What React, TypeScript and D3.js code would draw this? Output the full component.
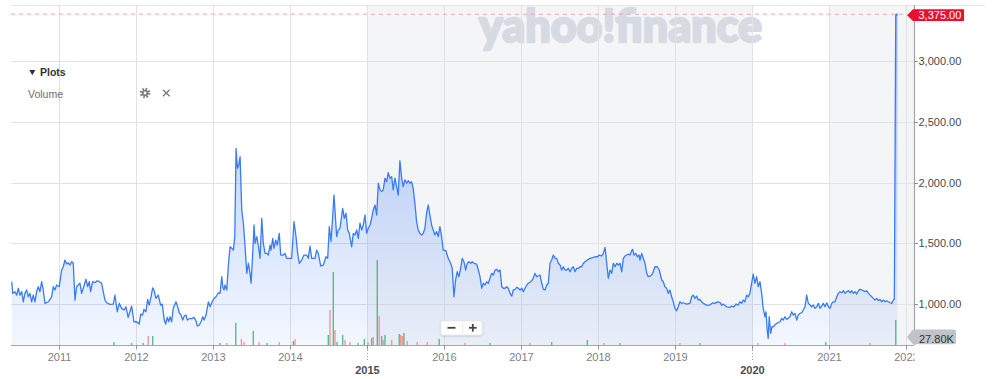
import React from 'react';
import * as d3 from 'd3';

// Decimal-year dates and closing prices
const priceDates = [
  2010.382, 2010.395, 2010.424, 2010.447, 2010.467, 2010.489, 2010.512, 2010.532, 2010.554, 2010.576,
  2010.597, 2010.619, 2010.641, 2010.662, 2010.684, 2010.706, 2010.727, 2010.749, 2010.771, 2010.792,
  2010.814, 2010.857, 2010.901, 2010.922, 2010.944, 2010.966, 2011.000, 2011.031, 2011.052, 2011.074,
  2011.096, 2011.117, 2011.139, 2011.161, 2011.182, 2011.204, 2011.226, 2011.247, 2011.269, 2011.291,
  2011.312, 2011.347, 2011.369, 2011.390, 2011.408, 2011.434, 2011.464, 2011.494, 2011.520, 2011.551,
  2011.594, 2011.616, 2011.659, 2011.702, 2011.724, 2011.754, 2011.780, 2011.811, 2011.841, 2011.867,
  2011.896, 2011.919, 2011.941, 2011.971, 2012.006, 2012.039, 2012.058, 2012.084, 2012.100, 2012.126,
  2012.149, 2012.169, 2012.191, 2012.214, 2012.230, 2012.256, 2012.286, 2012.317, 2012.338, 2012.364,
  2012.382, 2012.403, 2012.421, 2012.438, 2012.460, 2012.481, 2012.516, 2012.538, 2012.559, 2012.581,
  2012.603, 2012.624, 2012.646, 2012.663, 2012.689, 2012.720, 2012.750, 2012.776, 2012.793, 2012.819,
  2012.841, 2012.863, 2012.880, 2012.906, 2012.936, 2012.958, 2012.984, 2013.010, 2013.036, 2013.066,
  2013.088, 2013.110, 2013.123, 2013.140, 2013.153, 2013.175, 2013.196, 2013.218, 2013.240, 2013.261,
  2013.279, 2013.296, 2013.313, 2013.331, 2013.348, 2013.370, 2013.391, 2013.413, 2013.435, 2013.456,
  2013.478, 2013.491, 2013.508, 2013.530, 2013.543, 2013.565, 2013.588, 2013.608, 2013.630, 2013.650,
  2013.673, 2013.695, 2013.715, 2013.738, 2013.750, 2013.773, 2013.789, 2013.812, 2013.832, 2013.858,
  2013.876, 2013.910, 2013.932, 2013.954, 2014.019, 2014.049, 2014.075, 2014.097, 2014.118, 2014.149,
  2014.179, 2014.214, 2014.235, 2014.257, 2014.279, 2014.322, 2014.344, 2014.365, 2014.396, 2014.430,
  2014.465, 2014.487, 2014.508, 2014.530, 2014.552, 2014.569, 2014.604, 2014.625, 2014.647, 2014.682,
  2014.703, 2014.725, 2014.747, 2014.768, 2014.799, 2014.820, 2014.842, 2014.864, 2014.885, 2014.907,
  2014.929, 2014.950, 2014.972, 2014.994, 2015.015, 2015.037, 2015.059, 2015.080, 2015.102, 2015.124,
  2015.145, 2015.167, 2015.189, 2015.209, 2015.232, 2015.254, 2015.274, 2015.297, 2015.319, 2015.339,
  2015.361, 2015.384, 2015.404, 2015.426, 2015.449, 2015.469, 2015.491, 2015.514, 2015.534, 2015.556,
  2015.578, 2015.599, 2015.621, 2015.643, 2015.664, 2015.686, 2015.708, 2015.729, 2015.751, 2015.773,
  2015.794, 2015.816, 2015.838, 2015.859, 2015.881, 2015.903, 2015.924, 2015.946, 2015.968, 2015.989,
  2016.024, 2016.054, 2016.085, 2016.106, 2016.128, 2016.150, 2016.171, 2016.193, 2016.215, 2016.236,
  2016.258, 2016.280, 2016.301, 2016.323, 2016.345, 2016.366, 2016.388, 2016.423, 2016.444, 2016.466,
  2016.488, 2016.509, 2016.531, 2016.553, 2016.574, 2016.596, 2016.618, 2016.639, 2016.661, 2016.683,
  2016.704, 2016.726, 2016.748, 2016.769, 2016.791, 2016.813, 2016.833, 2016.856, 2016.878, 2016.898,
  2016.921, 2016.943, 2016.963, 2016.986, 2017.008, 2017.028, 2017.050, 2017.073, 2017.093, 2017.125,
  2017.151, 2017.180, 2017.202, 2017.223, 2017.245, 2017.267, 2017.288, 2017.310, 2017.332, 2017.353,
  2017.375, 2017.397, 2017.418, 2017.440, 2017.462, 2017.483, 2017.505, 2017.527, 2017.548, 2017.570,
  2017.592, 2017.613, 2017.635, 2017.657, 2017.678, 2017.700, 2017.722, 2017.743, 2017.765, 2017.787,
  2017.808, 2017.830, 2017.860, 2017.895, 2017.930, 2017.960, 2017.990, 2018.016, 2018.047, 2018.068,
  2018.090, 2018.112, 2018.133, 2018.155, 2018.177, 2018.198, 2018.220, 2018.242, 2018.263, 2018.285,
  2018.307, 2018.328, 2018.350, 2018.372, 2018.393, 2018.415, 2018.437, 2018.450, 2018.467, 2018.489,
  2018.510, 2018.532, 2018.545, 2018.567, 2018.587, 2018.610, 2018.632, 2018.652, 2018.684, 2018.710,
  2018.739, 2018.769, 2018.795, 2018.827, 2018.847, 2018.869, 2018.891, 2018.912, 2018.934, 2018.956,
  2018.977, 2018.999, 2019.021, 2019.042, 2019.064, 2019.086, 2019.107, 2019.151, 2019.194, 2019.216,
  2019.237, 2019.259, 2019.281, 2019.302, 2019.324, 2019.346, 2019.367, 2019.411, 2019.454, 2019.489,
  2019.519, 2019.549, 2019.584, 2019.606, 2019.627, 2019.671, 2019.714, 2019.736, 2019.766, 2019.792,
  2019.822, 2019.844, 2019.866, 2019.887, 2019.909, 2019.931, 2019.952, 2019.974, 2019.996, 2020.017,
  2020.039, 2020.061, 2020.082, 2020.104, 2020.126, 2020.146, 2020.169, 2020.182, 2020.198, 2020.211,
  2020.224, 2020.243, 2020.260, 2020.276, 2020.321, 2020.364, 2020.386, 2020.406, 2020.428, 2020.451,
  2020.471, 2020.493, 2020.516, 2020.536, 2020.558, 2020.581, 2020.601, 2020.623, 2020.646, 2020.666,
  2020.688, 2020.710, 2020.731, 2020.753, 2020.775, 2020.796, 2020.818, 2020.840, 2020.861, 2020.883,
  2020.905, 2020.926, 2020.948, 2020.970, 2020.991, 2021.013, 2021.035, 2021.056, 2021.078, 2021.100,
  2021.121, 2021.143, 2021.165, 2021.186, 2021.208, 2021.230, 2021.251, 2021.273, 2021.295, 2021.316,
  2021.338, 2021.360, 2021.381, 2021.403, 2021.425, 2021.446, 2021.468, 2021.490, 2021.511, 2021.533,
  2021.555, 2021.576, 2021.598, 2021.620, 2021.641, 2021.663, 2021.685, 2021.706, 2021.728, 2021.750,
  2021.771, 2021.793, 2021.815, 2021.836, 2021.849, 2021.867, 2021.890,
];

const priceValues = [
  1186, 1090, 1104, 1076, 1132, 1076, 1104, 1021, 1090, 1118,
  1062, 1090, 1021, 1076, 1021, 1104, 1145, 1104, 1186, 1118,
  1008, 1021, 1062, 1145, 1118, 1159, 1145, 1282, 1309, 1364,
  1331, 1342, 1323, 1350, 1337, 1035, 1145, 1159, 1173, 1090,
  1132, 1206, 1145, 1186, 1104, 1186, 1178, 1194, 1186, 1173,
  1035, 1013, 1000, 1002, 1076, 939, 1008, 967, 953, 980,
  893, 939, 986, 857, 857, 838, 920, 912, 959, 939,
  1041, 994, 1058, 1136, 1118, 1049, 1076, 994, 1002, 871,
  838, 893, 857, 898, 857, 967, 1021, 980, 931, 912,
  871, 904, 912, 871, 882, 882, 893, 863, 822, 830,
  857, 898, 871, 912, 1021, 980, 1021, 1049, 1062, 1095,
  1090, 1227, 1145, 1118, 1159, 1118, 1323, 1473, 1460, 1446,
  1556, 2282, 2118, 2145, 2213, 1775, 1666, 1473, 1255, 1337,
  1255, 1173, 1364, 1652, 1501, 1556, 1473, 1378, 1707, 1501,
  1419, 1419, 1405, 1487, 1446, 1542, 1460, 1528, 1487, 1583,
  1405, 1405, 1419, 1378, 1378, 1679, 1556, 1419, 1337, 1364,
  1405, 1405, 1378, 1479, 1378, 1378, 1446, 1419, 1315, 1323,
  1391, 1378, 1638, 1515, 1720, 1898, 1556, 1611, 1625, 1789,
  1707, 1748, 1611, 1583, 1473, 1583, 1570, 1611, 1542, 1666,
  1611, 1652, 1734, 1583, 1625, 1652, 1707, 1775, 1816, 1734,
  1995, 1940, 1926, 1940, 2036, 2008, 2082, 2036, 2049, 1940,
  2036, 1967, 1898, 2180, 2036, 1967, 2022, 1995, 2016, 1995,
  2008, 1953, 1830, 1679, 1611, 1583, 1570, 1583, 1625, 1748,
  1816, 1734, 1652, 1611, 1570, 1597, 1556, 1638, 1556, 1446,
  1441, 1378, 1337, 1296, 1062, 1200, 1268, 1227, 1296, 1378,
  1350, 1282, 1337, 1350, 1337, 1350, 1337, 1331, 1282, 1227,
  1132, 1173, 1159, 1186, 1173, 1214, 1255, 1241, 1282, 1288,
  1268, 1282, 1145, 1132, 1132, 1145, 1132, 1090, 1068, 1118,
  1123, 1140, 1132, 1118, 1132, 1104, 1132, 1159, 1173, 1186,
  1206, 1255, 1227, 1233, 1241, 1173, 1123, 1118, 1159, 1173,
  1337, 1364, 1405, 1378, 1378, 1337, 1323, 1282, 1309, 1282,
  1282, 1296, 1268, 1296, 1309, 1268, 1296, 1296, 1309, 1309,
  1337, 1350, 1364, 1378, 1383, 1391, 1391, 1405, 1397, 1419,
  1468, 1337, 1214, 1282, 1255, 1337, 1309, 1337, 1323, 1337,
  1268, 1378, 1397, 1405, 1413, 1405, 1441, 1452, 1405, 1419,
  1391, 1405, 1364, 1419, 1378, 1337, 1255, 1227, 1233, 1255,
  1309, 1309, 1282, 1200, 1186, 1145, 1132, 1090, 1118, 1062,
  1021, 967, 947, 980, 1021, 1008, 1013, 1002, 1008, 1062,
  1076, 1049, 1068, 1035, 1041, 1021, 1008, 994, 994, 1013,
  1008, 1021, 1016, 994, 1002, 980, 975, 986, 980, 1002,
  994, 1021, 1008, 1035, 1021, 1076, 1062, 1090, 1173, 1249,
  1173, 1227, 1145, 1186, 1090, 967, 898, 939, 789, 721,
  898, 762, 816, 816, 844, 857, 885, 871, 898, 877,
  885, 898, 939, 912, 926, 871, 912, 926, 931, 953,
  980, 1076, 1008, 994, 980, 994, 967, 980, 1008, 967,
  986, 1008, 980, 1013, 980, 967, 1008, 1021, 1021, 1062,
  1090, 1104, 1095, 1112, 1090, 1104, 1112, 1095, 1112, 1090,
  1104, 1085, 1112, 1123, 1118, 1112, 1104, 1112, 1090, 1076,
  1062, 1049, 1035, 1049, 1030, 1041, 1021, 1035, 1021, 1030,
  1021, 1013, 1008, 1035, 1041, 3375, 3375,
];

// Volume bars (decimal-year dates, shares, 1 = up / green, 0 = down / red)
const volumeDates = [
  2011.711, 2011.941, 2012.091, 2012.156, 2012.214, 2013.088, 2013.175, 2013.292, 2013.365, 2013.400,
  2013.520, 2013.595, 2013.698, 2013.858, 2014.040, 2014.062, 2014.495, 2014.517, 2014.560, 2014.582,
  2014.608, 2014.682, 2014.712, 2014.777, 2014.881, 2014.963, 2015.011, 2015.059, 2015.080, 2015.132,
  2015.157, 2015.189, 2015.209, 2015.232, 2015.319, 2015.417, 2015.436, 2015.457, 2015.478, 2015.521,
  2015.651, 2015.781, 2015.937, 2016.271, 2016.596, 2017.115, 2017.397, 2017.860, 2018.077, 2018.285,
  2019.064, 2019.324, 2020.078, 2020.428, 2020.957, 2021.533, 2021.867,
];
const volumeValues = [
  3300, 2200, 2200, 10000, 10000, 2200, 2200, 24500, 6700, 3300,
  15600, 3300, 2200, 3300, 4400, 6700, 11100, 38900, 81200, 16700,
  3300, 11100, 5600, 3300, 2200, 6700, 3300, 7800, 8900, 94500,
  32200, 10000, 5600, 11100, 5600, 12200, 11100, 10000, 13300, 4400,
  3300, 3300, 6700, 2200, 2200, 2200, 3300, 5600, 2200, 2200,
  2200, 2200, 2200, 2200, 3300, 2200, 27800,
];
const volumeUp = [
  1, 1, 1, 0, 1, 1, 0, 1, 0, 0,
  1, 0, 1, 0, 1, 0, 1, 0, 1, 0,
  1, 1, 0, 0, 1, 1, 0, 1, 0, 1,
  0, 1, 0, 1, 0, 1, 0, 0, 1, 0,
  0, 0, 1, 0, 1, 0, 1, 1, 0, 1,
  0, 1, 0, 0, 1, 0, 1,
];

const priceTicks = [1000, 1500, 2000, 2500, 3000];
const boldYears = [2015, 2020];
const shadedBands = [[2015, 2020], [2021, 2023]];
const lastPrice = 3375;
const lastVolumeLabel = '27.80K';

const FONT = "'Liberation Sans', Arial, Helvetica, sans-serif";

function decToDate(t: number): Date {
  const yr = Math.floor(t);
  const s = new Date(yr, 0, 1).getTime();
  const e = new Date(yr + 1, 0, 1).getTime();
  return new Date(s + (t - yr) * (e - s));
}

export default function App() {
  const W = 1000;
  const H = 379;
  const left = 11;
  const right = 914;
  const top = 5;
  const bottom = 345;

  const x = d3.scaleTime().domain([decToDate(2010.3725), decToDate(2022.1043)]).range([left, right]);
  const y = d3.scaleLinear().domain([666, 3459]).range([bottom, top]);
  const yVol = d3.scaleLinear().domain([0, 100000]).range([bottom, bottom - 89.9]);

  const data = priceDates.map((t, i) => ({ d: decToDate(t), v: priceValues[i] }));
  const line = d3.line<{ d: Date; v: number }>().x((p) => x(p.d)).y((p) => y(p.v));
  const area = d3
    .area<{ d: Date; v: number }>()
    .x((p) => x(p.d))
    .y0(bottom)
    .y1((p) => y(p.v));

  const years = x.ticks(d3.timeYear.every(1) as any);
  const fmt = d3.format(',.2f');
  const lastY = y(lastPrice);
  const lastX = x(decToDate(priceDates[priceDates.length - 1]));

  return (
    <div style={{ width: W, height: H, overflow: 'hidden' }}>
      <style>{`body{margin:0;}`}</style>
      <svg width={W} height={H} style={{ display: 'block', fontFamily: FONT }}>
        <defs>
          <linearGradient id="areaGrad" x1="0" y1={top} x2="0" y2={bottom} gradientUnits="userSpaceOnUse">
            <stop offset="0" stopColor="#3a7bf5" stopOpacity={0.46} />
            <stop offset="1" stopColor="#3a7bf5" stopOpacity={0.06} />
          </linearGradient>
          <clipPath id="plotClip">
            <rect x={left} y={top} width={right - left} height={bottom - top} />
          </clipPath>
          <clipPath id="axisClip">
            <rect x={0} y={bottom} width={right + 0.5} height={H - bottom} />
          </clipPath>
          <filter id="shadow" x="-20%" y="-30%" width="140%" height="160%">
            <feDropShadow dx="0" dy="1" stdDeviation="0.8" floodColor="#000" floodOpacity="0.18" />
          </filter>
        </defs>

        {/* shaded bands */}
        <g clipPath="url(#plotClip)">
          {shadedBands.map(([a, b]) => (
            <rect
              key={a}
              x={x(decToDate(a))}
              y={top}
              width={Math.min(x(decToDate(b)), right) - x(decToDate(a))}
              height={bottom - top}
              fill="#f4f5f7"
            />
          ))}
        </g>

        {/* watermark */}
        <text
          x={479}
          y={42}
          fontSize={46}
          fontWeight={900}
          fill="#d6dbe3"
          stroke="#d6dbe3"
          strokeWidth={2.4}
          strokeLinejoin="round"
          textLength={283}
          lengthAdjust="spacingAndGlyphs"
          style={{ fontFamily: "Lato, 'Liberation Sans', Arial, sans-serif" }}
        >
          yahoo!finance
        </text>

        {/* grid */}
        <line x1={left} x2={985} y1={top + 0.5} y2={top + 0.5} stroke="#e6e6e6" />
        {priceTicks.map((t) => (
          <line key={t} x1={left} x2={right} y1={Math.round(y(t)) + 0.5} y2={Math.round(y(t)) + 0.5} stroke="#e3e3e3" />
        ))}
        {years.map((d) => (
          <line
            key={+d}
            x1={Math.round(x(d)) + 0.5}
            x2={Math.round(x(d)) + 0.5}
            y1={top}
            y2={bottom}
            stroke="#e2e2e2"
          />
        ))}

        {/* price area */}
        <g clipPath="url(#plotClip)">
          <path d={area(data) || ''} fill="url(#areaGrad)" />
          {volumeDates.map((t, i) => {
            const vx = x(decToDate(t));
            const vy = yVol(volumeValues[i]);
            return (
              <rect
                key={i}
                x={vx - 0.7}
                y={vy}
                width={1.4}
                height={bottom - vy}
                fill={volumeUp[i] ? '#3db27f' : '#f08880'}
                opacity={0.85}
              />
            );
          })}
          <path d={line(data) || ''} fill="none" stroke="#3a7bf5" strokeWidth={1.3} strokeLinejoin="round" />
        </g>

        {/* last price dashed line */}
        <line x1={left} x2={907} y1={lastY - 1} y2={lastY - 1} stroke="#f5a2aa" strokeDasharray="4 4" />
        <line x1={lastX - 2} x2={lastX} y1={lastY - 1} y2={lastY - 1} stroke="#3a7bf5" strokeWidth={1.3} />

        {/* x axis */}
        <line x1={left} x2={right} y1={bottom + 0.5} y2={bottom + 0.5} stroke="#a3a7ad" strokeWidth={1.2} />
        <g clipPath="url(#axisClip)">
          {years.map((d) => {
            const xx = Math.round(x(d)) + 0.5;
            const yr = d.getFullYear();
            const bold = boldYears.includes(yr);
            return (
              <g key={+d}>
                <line x1={xx} x2={xx} y1={bottom} y2={bottom + 4.5} stroke="#8e9399" />
                {bold ? (
                  <>
                    <line x1={xx} x2={xx} y1={bottom + 5} y2={bottom + 17} stroke="#9aa0a6" strokeDasharray="1 2" />
                    <text x={xx} y={374} textAnchor="middle" fontSize={11} fontWeight={700} fill="#4a4d52">
                      {yr}
                    </text>
                  </>
                ) : (
                  <text x={xx} y={361.3} textAnchor="middle" fontSize={11} fill="#7c8187">
                    {yr}
                  </text>
                )}
              </g>
            );
          })}
        </g>

        {/* y axis */}
        <line x1={right + 0.5} x2={right + 0.5} y1={top} y2={bottom} stroke="#a3a7ad" strokeWidth={1.2} />
        {priceTicks.map((t) => (
          <g key={t}>
            <line x1={right} x2={right + 4} y1={Math.round(y(t)) + 0.5} y2={Math.round(y(t)) + 0.5} stroke="#8e9399" />
            <text x={918.5} y={y(t) + 3.9} fontSize={11} fill="#464b51">
              {fmt(t)}
            </text>
          </g>
        ))}

        {/* last price label */}
        <path d={`M907,${lastY} L913,9.3 L964,9.3 L964,21 L913,21 Z`} fill="#e8102e" />
        <text x={918.5} y={19.3} fontSize={11} fill="#ffffff">
          {fmt(lastPrice)}
        </text>

        {/* last volume label */}
        <path d="M907,337 L913,329.5 L954,329.5 Q956,329.5 956,331.5 L956,342.3 Q956,344.3 954,344.3 L913,344.3 Z" fill="#c0c4ca" />
        <text x={919} y={342.5} fontSize={11} fill="#2f3338">
          {lastVolumeLabel}
        </text>

        {/* zoom control */}
        <g filter="url(#shadow)">
          <rect x={441} y={321} width={41} height={14} rx={2} fill="#ffffff" stroke="#e4e4e4" strokeWidth={0.6} />
        </g>
        <line x1={462.7} x2={462.7} y1={322.5} y2={333.5} stroke="#e6e6e6" />
        <line x1={447.5} x2={455.5} y1={327.8} y2={327.8} stroke="#444" strokeWidth={1.8} />
        <line x1={469} x2={476.6} y1={327.8} y2={327.8} stroke="#444" strokeWidth={1.8} />
        <line x1={472.8} x2={472.8} y1={324} y2={331.6} stroke="#444" strokeWidth={1.8} />

        {/* plots panel */}
        <path d="M29.3,70 L35.3,70 L32.3,75.3 Z" fill="#333" />
        <text x={40} y={76} fontSize={10.5} fontWeight={700} fill="#333">
          Plots
        </text>
        <text x={28} y={97.5} fontSize={10.5} fill="#6b6f74">
          Volume
        </text>
        <g transform="translate(145,93)">
          <circle r={4.2} fill="none" stroke="#7a7e83" strokeWidth={2.2} strokeDasharray="1.65 1.65" />
          <circle r={3.3} fill="#7a7e83" />
          <circle r={1.4} fill="#ffffff" />
        </g>
        <g transform="translate(166.3,93)" stroke="#7a7e83" strokeWidth={1.4}>
          <line x1={-3.3} y1={-3.3} x2={3.3} y2={3.3} />
          <line x1={-3.3} y1={3.3} x2={3.3} y2={-3.3} />
        </g>
      </svg>
    </div>
  );
}
